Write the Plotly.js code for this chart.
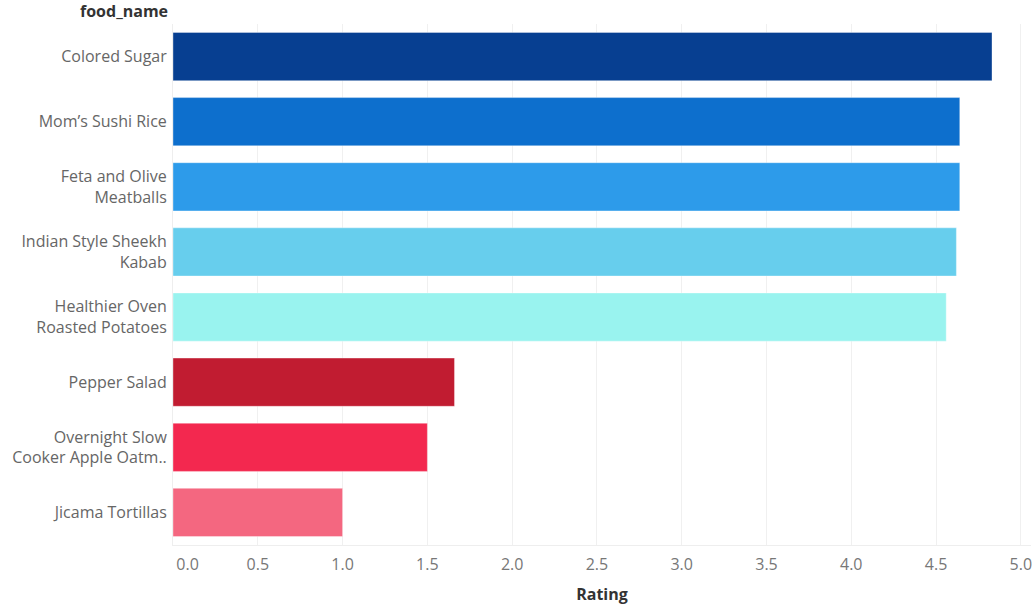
<!DOCTYPE html>
<html>
<head>
<meta charset="utf-8">
<script src="https://cdn.plot.ly/plotly-3.0.1.min.js"></script>
<style>html,body{margin:0;padding:0;background:#fff;}#chart{width:1036px;height:606px;}</style>
</head>
<body>
<div id="chart"></div>
<script>
const foodNames = [
  "Colored Sugar",
  "Mom’s Sushi Rice",
  "Feta and Olive<br>Meatballs",
  "Indian Style Sheekh<br>Kabab",
  "Healthier Oven<br>Roasted Potatoes",
  "Pepper Salad",
  "Overnight Slow<br>Cooker Apple Oatm..",
  "Jicama Tortillas"
];
const ratings = [4.83, 4.64, 4.64, 4.62, 4.56, 1.66, 1.5, 1.0];
const barColors = ["#073F91", "#0D6FCD", "#2D9BEA", "#67CEED", "#99F3EF", "#C11C31", "#F3284F", "#F46780"];
const xTicks = [0, 0.5, 1, 1.5, 2, 2.5, 3, 3.5, 4, 4.5, 5];
const xTickText = ["\u00a0\u00a0\u00a0\u00a0\u00a0\u00a0\u00a00.0", "0.5", "1.0", "1.5", "2.0", "2.5", "3.0", "3.5", "4.0", "4.5", "5.0"];

const font = "'Open Sans', 'Noto Sans', sans-serif";

const trace = {
  type: "bar",
  orientation: "h",
  x: ratings,
  y: foodNames,
  marker: {color: barColors, line: {color: "rgba(255,255,255,0.35)", width: 1}},
  hoverinfo: "x+y"
};

const layout = {
  width: 1036,
  height: 606,
  margin: {l: 173, r: 5, t: 24, b: 61},
  paper_bgcolor: "#fff",
  plot_bgcolor: "#fff",
  bargap: 0.26,
  showlegend: false,
  font: {family: font, color: "#666", size: 16},
  xaxis: {
    range: [0, 5.06],
    tickvals: xTicks,
    ticktext: xTickText,
    showgrid: true,
    gridcolor: "#f0f0f0",
    gridwidth: 1,
    zeroline: false,
    showline: true,
    linecolor: "#eeeeee",
    ticks: "",
    ticklabelstandoff: 5,
    tickfont: {family: font, size: 16, color: "#777"},
    title: {text: "<b>Rating</b>", font: {family: font, size: 16, color: "#333"}, standoff: 14},
    fixedrange: true
  },
  yaxis: {
    autorange: "reversed",
    showgrid: false,
    zeroline: false,
    showline: true,
    linecolor: "#eeeeee",
    ticks: "",
    ticklabelstandoff: 2,
    tickfont: {family: font, size: 16, color: "#666"},
    fixedrange: true
  },
  annotations: [{
    text: "<b>food_name</b>",
    xref: "paper", yref: "paper",
    x: 0, y: 1,
    xanchor: "right", yanchor: "bottom",
    xshift: -3, yshift: 0,
    showarrow: false,
    font: {family: font, size: 16, color: "#333"}
  }]
};

Plotly.newPlot("chart", [trace], layout, {displayModeBar: false, staticPlot: true});
</script>
</body>
</html>
